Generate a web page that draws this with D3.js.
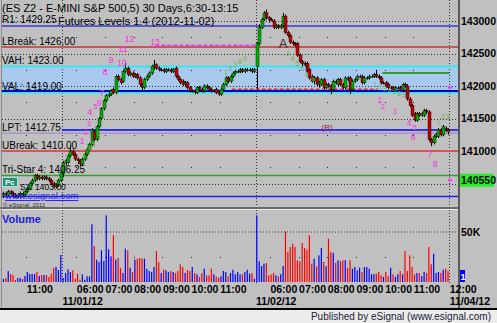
<!DOCTYPE html>
<html>
<head>
<meta charset="utf-8">
<script src="https://cdn.jsdelivr.net/npm/d3@7"></script>
<style>
  body { margin: 0; background: #c0c0c0; }
  svg { display: block; font-family: "Liberation Sans", Arial, sans-serif; }
</style>
</head>
<body>
<svg id="chart" width="497" height="323"></svg>
<script>
// ES Z2 5-minute bars [open, high, low, close], index 0 = first bar of 11/01 session
var bars1031 = [
  [1403.25,1403.75,1402.75,1403.5],[1403.5,1403.75,1403.0,1403.25],[1403.25,1404.0,1403.0,1403.75],
  [1403.75,1404.0,1403.25,1403.5],[1403.5,1403.75,1403.0,1403.25],[1403.25,1403.5,1402.75,1403.0],
  [1403.0,1403.5,1402.75,1403.25],[1403.25,1403.75,1403.0,1403.5],[1403.5,1403.75,1403.0,1403.25],
  [1403.25,1404.0,1403.0,1403.75],[1403.75,1404.5,1403.5,1404.25],[1404.25,1405.25,1404.0,1405.0],
  [1405.0,1405.75,1404.75,1405.5],[1405.5,1406.5,1405.25,1406.25],[1406.25,1406.5,1405.5,1405.75],
  [1405.75,1406.25,1405.5,1406.0],[1406.0,1406.25,1405.5,1405.75],[1405.75,1406.25,1405.5,1406.0],
  [1406.0,1406.25,1405.5,1405.75],[1405.75,1406.0,1405.25,1405.5],[1405.5,1405.75,1404.75,1405.0],
  [1405.0,1405.25,1404.25,1404.5],[1404.5,1405.0,1404.25,1404.75],[1404.75,1405.75,1404.5,1405.5],
  [1405.5,1407.0,1405.25,1406.75]
];
var bars1101 = [
  [1406.5,1408.5,1406.0,1408.25],[1408.25,1408.75,1407.75,1408.5],[1408.25,1409.5,1408.0,1409.25],
  [1409.25,1410.75,1409.0,1410.0],[1410.0,1410.25,1409.25,1409.5],[1409.5,1409.75,1408.5,1408.75],
  [1408.75,1409.0,1408.0,1408.5],[1408.5,1408.75,1407.75,1408.0],[1408.0,1409.0,1407.75,1408.75],
  [1408.75,1409.75,1408.5,1409.5],[1409.5,1410.5,1409.25,1410.25],[1410.25,1411.25,1410.0,1411.0],
  [1411.0,1413.5,1410.75,1413.25],[1413.0,1413.25,1411.5,1411.75],[1411.75,1414.0,1411.5,1413.75],
  [1413.75,1415.25,1413.5,1415.0],[1415.0,1416.75,1414.75,1416.5],[1416.5,1418.0,1416.25,1417.75],
  [1417.75,1418.75,1417.5,1418.5],[1418.5,1419.0,1418.25,1418.75],[1418.75,1419.5,1418.5,1419.25],
  [1419.5,1419.75,1418.75,1419.0],[1419.0,1421.75,1418.75,1421.5],[1421.5,1421.75,1420.75,1421.0],
  [1421.0,1421.25,1420.25,1420.5],[1420.75,1422.5,1420.5,1422.25],[1422.25,1423.5,1422.0,1422.75],
  [1422.75,1423.0,1421.5,1421.75],[1421.75,1422.25,1421.5,1422.0],[1422.0,1422.25,1421.25,1421.5],
  [1421.5,1422.0,1421.25,1421.75],[1421.75,1422.0,1421.0,1421.25],[1421.25,1421.5,1420.0,1420.25],
  [1420.25,1420.5,1419.25,1419.75],[1419.75,1421.25,1419.5,1421.0],[1421.0,1421.75,1420.75,1421.5],
  [1421.5,1422.25,1421.25,1422.0],[1422.0,1423.25,1421.75,1423.0],[1423.0,1424.0,1422.5,1423.25],
  [1423.25,1423.5,1422.5,1422.75],[1422.75,1423.0,1422.25,1422.5],[1422.5,1422.75,1422.25,1422.5],
  [1422.5,1422.75,1422.0,1422.25],[1422.25,1422.75,1422.0,1422.5],[1422.5,1422.75,1422.25,1422.5],
  [1422.5,1422.75,1422.0,1422.25],[1422.25,1422.75,1422.0,1422.5],[1422.75,1423.0,1421.25,1421.5],
  [1421.5,1421.75,1420.75,1421.0],[1421.0,1421.25,1420.25,1420.5],[1420.75,1421.0,1420.0,1420.25],
  [1420.25,1420.75,1420.0,1420.5],[1420.5,1420.75,1419.5,1419.75],[1419.75,1420.0,1419.0,1419.25],
  [1419.25,1419.5,1419.0,1419.25],[1419.25,1419.5,1418.75,1419.0],[1419.0,1420.0,1418.75,1419.75],
  [1419.75,1420.0,1419.25,1419.5],[1419.5,1419.75,1419.0,1419.25],[1419.25,1420.25,1419.0,1420.0],
  [1420.0,1420.25,1419.5,1419.75],[1419.75,1420.0,1419.25,1419.5],[1419.5,1419.75,1419.0,1419.25],
  [1419.25,1419.5,1419.0,1419.25],[1419.5,1419.75,1418.75,1419.0],[1419.0,1419.25,1418.5,1418.75],
  [1418.75,1419.75,1418.5,1419.5],[1419.5,1420.5,1419.25,1420.25],[1420.25,1421.5,1420.0,1421.25],
  [1421.25,1421.5,1420.5,1420.75],[1420.75,1421.75,1420.5,1421.5],[1421.5,1422.25,1421.25,1422.0],
  [1422.0,1422.5,1421.75,1422.25],[1422.25,1422.5,1422.0,1422.25],[1422.25,1422.75,1422.0,1422.5],
  [1422.5,1422.75,1422.0,1422.25],[1422.25,1422.75,1422.0,1422.5],[1422.5,1422.75,1422.25,1422.5],
  [1422.5,1422.75,1422.25,1422.5],[1422.5,1422.75,1422.0,1422.25],[1422.25,1422.75,1422.0,1422.5]
];
var bars1102 = [
  [1423.0,1426.75,1419.5,1426.5],[1426.5,1429.5,1426.25,1429.0],[1429.0,1430.5,1428.75,1430.25],
  [1430.25,1431.5,1430.0,1431.25],[1431.25,1431.75,1430.25,1430.5],[1430.5,1430.75,1429.75,1430.25],
  [1430.25,1430.5,1430.0,1430.0],[1430.0,1430.25,1428.75,1429.0],[1429.0,1429.5,1428.75,1429.25],
  [1429.25,1429.5,1428.75,1429.0],[1429.0,1429.5,1428.75,1429.25],[1429.25,1431.25,1429.0,1430.75],
  [1430.75,1431.0,1428.0,1428.25],[1428.25,1428.5,1427.5,1427.75],[1427.75,1428.0,1426.5,1426.75],
  [1426.75,1427.0,1426.25,1426.5],[1426.5,1426.75,1426.0,1426.25],[1426.5,1426.75,1424.5,1424.75],
  [1424.75,1425.0,1423.5,1423.75],[1423.75,1424.0,1423.0,1423.5],[1423.5,1423.75,1423.0,1423.25],
  [1423.5,1423.75,1422.0,1422.25],[1422.5,1422.75,1421.0,1421.25],[1421.5,1421.75,1420.5,1420.75],
  [1420.75,1421.5,1420.25,1421.25],[1421.25,1421.5,1420.0,1420.25],[1420.25,1420.75,1419.75,1420.5],
  [1420.25,1421.25,1420.0,1421.0],[1421.0,1421.25,1419.5,1419.75],[1419.75,1420.5,1419.5,1420.25],
  [1420.25,1420.5,1419.75,1420.0],[1420.0,1420.25,1418.75,1419.5],[1419.5,1421.0,1419.25,1420.75],
  [1420.75,1421.0,1420.25,1420.5],[1420.25,1421.25,1420.0,1421.0],[1421.0,1421.25,1420.0,1420.25],
  [1420.25,1420.5,1419.5,1419.75],[1419.75,1421.5,1419.5,1421.25],[1421.25,1421.5,1420.75,1421.0],
  [1421.25,1421.5,1418.75,1419.5],[1419.5,1421.0,1419.25,1420.75],[1420.75,1421.25,1420.5,1421.0],
  [1421.0,1421.75,1420.75,1421.5],[1421.5,1421.75,1421.25,1421.5],[1421.5,1421.75,1420.25,1420.5],
  [1420.5,1421.5,1420.25,1421.25],[1421.25,1421.5,1421.0,1421.25],[1421.25,1421.75,1421.0,1421.5],
  [1421.5,1421.75,1421.25,1421.5],[1421.5,1422.0,1421.25,1421.75],[1421.75,1422.5,1421.25,1421.5],
  [1421.5,1421.75,1421.0,1421.25],[1421.25,1421.5,1420.25,1420.5],[1420.5,1420.75,1420.25,1420.5],
  [1420.5,1420.75,1419.75,1420.0],[1420.25,1420.5,1419.5,1419.75],[1419.75,1420.0,1419.5,1419.75],
  [1419.75,1420.0,1419.25,1419.5],[1419.5,1420.0,1419.25,1419.75],[1419.75,1420.0,1419.5,1419.75],
  [1419.75,1420.0,1419.25,1419.5],[1419.5,1420.5,1419.25,1420.25],[1420.25,1420.5,1419.75,1420.0],
  [1420.0,1420.25,1417.75,1418.0],[1418.0,1418.25,1416.75,1417.0],[1417.0,1417.25,1415.25,1415.5],
  [1415.75,1416.0,1414.5,1414.75],[1414.75,1416.0,1414.5,1415.75],[1415.75,1416.0,1415.25,1415.5],
  [1415.5,1416.0,1415.25,1415.75],[1415.5,1416.5,1415.25,1416.25],[1416.25,1416.5,1415.75,1416.0],
  [1416.0,1416.25,1411.5,1411.75],[1411.75,1412.0,1410.75,1411.25],[1411.25,1412.5,1411.0,1412.25],
  [1412.25,1412.75,1412.0,1412.5],[1412.25,1413.5,1412.0,1413.25],[1413.25,1413.5,1412.25,1412.5],
  [1412.5,1414.0,1412.25,1413.75],[1413.5,1413.75,1413.0,1413.25],[1413.25,1413.5,1412.5,1413.0]
];

// volume in thousands of contracts
var vol1031 = [3,4,11,8,7,2,4,4,3,6,10,8,8,8,10,6,7,7,7,5,8,14,15,12,27];
var vol1101 = [4,9,12.7,10,11.7,3.3,8.3,2.3,7.7,2.3, 5.7,5.7,57.7,36,22.3,20,31.7,21,66.7,32.7,
  25.7,46.7,22.3,24,14.3,9,33.3,31.7,14.3,10, 22.3,23.3,24,23.3,23.3,13.3,11,10,15,31,
  20,9,12.3,11.7,10,11,10,9,11,17.7, 15,9,12.3,11,15,9,7.7,5,9,13.3,
  6.7,6.7,13.3,7.7,5.7,4.3,5.7,11,10,5.7, 9,12.3,7.7,10,7.7,7.7,10,12.3,8.3,9, 3.3];
var vol1102 = [66.7,20.7,16,18.3,19,6.7,7.7,9,6.7,5.7, 7.7,16,50.7,30,35,38.3,35,21.7,20.7,39,
  34,32.3,46.7,18.3,23.3,15.7,26.7,34,20,15.7, 43.3,30,29,19,21.7,20.7,21.7,21.7,14,21.7,
  13.3,15,11.7,14.3,10,15,15,13.3,7.7,7.7, 8.3,10,6.7,5,10,5.7,14.3,7.7,5,7.7,
  11,7.7,31,11,26.7,15,7.7,9,9,5.7, 10,9,35,17.7,28.3,9,10,9,12.3,13.3, 11];

// time axis
var tickBars = [-15, 6, 18, 30, 42, 54, 66, 87, 99, 111, 123, 135, 147, 162];
var tickLabels = ["11:00","06:00","07:00","08:00","09:00","10:00","11:00",
                  "06:00","07:00","08:00","09:00","10:00","11:00","12:00"];
var dayBars = [0, 81, 162];
var dayLabels = ["11/01/12", "11/02/12", "11/04/12"];
var priceTicks = [1430, 1425, 1420, 1415, 1410];
var gridPrices = [1430, 1425, 1420, 1415, 1410, 1405];
var dotPrices = [1427.5, 1422.5, 1417.5, 1412.5, 1407.5];

// futures levels
var levelNames = ["R1", "LBreak", "VAH", "VAL", "LPT", "UBreak", "Tri-Star 4", "S1"];
var levelPrices = [1429.25, 1426.00, 1423.00, 1419.00, 1412.75, 1410.00, 1406.25, 1403.00];
var lastPrice = 1405.50;

// setup counts [bar, price, label]
var countsUp = [[8.4,1411.5,"1"],[10,1412.8,"2"],[11.3,1414.3,"3"],[11.7,1416,"4"],[14,1416.9,"5"],
  [15.5,1417.4,"6"],[16.7,1418.9,"7"],[18,1422.2,"8"],[20.5,1424,"9"],[25.1,1423.5,"10"],
  [25.5,1425.7,"11"],[28.2,1427.2,"12"],[38.9,1426.8,"13"]];
var countsDown = [[133,1417.8,"1"],[134.3,1416.9,"2"],[139.3,1416,"3"],[145.2,1414.3,"4"],
  [147.6,1413.6,"5"],[146.9,1412.2,"6"],[154,1409.5,"7"],[156.1,1408,"8"]];
var countsSmall = [[9,1409.3,"3"],[11.2,1410.3,"4"],[13.2,1411,"5"],[15.2,1412.6,"6"],
  [68.5,1422,"1"],[70.5,1422.6,"2"],[72.5,1423.2,"3"],[74.5,1423.7,"8"],[76.5,1424.2,"9"],
  [94.5,1425,"3"],[96.5,1424.2,"4"],[98.5,1423.4,"5"],[100.5,1422.6,"6"],[102.5,1421.8,"8"],[104.5,1421,"9"],
  [131,1420.2,"1"],[133,1419.9,"2"],[135,1419.6,"3"],[137,1419.3,"4"],[139,1419,"7"],[141,1418.8,"8"],[143,1418.6,"9"],
  [157.5,1414.5,"1"],[159.5,1415.3,"2"],[161.3,1415.3,"3"]];

var svg = d3.select("#chart");
var W = 497, H = 323;

var allBars = bars1031.concat(bars1101, bars1102);
var allVol = vol1031.concat(vol1101, vol1102);
var first = -bars1031.length;

var x = d3.scaleLinear().domain([-25, 162]).range([2.25, 449.2]);
var y = d3.scaleLinear().domain([1410, 1430]).range([151, 21]);
var yv = d3.scaleLinear().domain([0, 50]).range([282, 232]);

svg.append("rect").attr("width", W).attr("height", H).attr("fill", "#c0c0c0");

// VAH - VAL band
svg.append("rect")
  .attr("x", 2).attr("width", 456)
  .attr("y", y(levelPrices[2])).attr("height", y(levelPrices[3]) - y(levelPrices[2]))
  .attr("fill", "#a8c8ee");

// dotted gridlines
svg.selectAll(".grid").data(gridPrices).enter().append("line")
  .attr("x1", 2).attr("x2", 458)
  .attr("y1", function (d) { return Math.round(y(d)) + 0.5; })
  .attr("y2", function (d) { return Math.round(y(d)) + 0.5; })
  .attr("stroke", "#303030").attr("stroke-dasharray", "1,2");

// grid dots at hour ticks
dotPrices.forEach(function (p) {
  svg.selectAll(null).data(tickBars.slice(0, 13)).enter().append("rect")
    .attr("x", function (d) { return Math.round(x(d)); })
    .attr("y", Math.round(y(p)))
    .attr("width", 1).attr("height", 1).attr("fill", "#202020");
});

// day separators
svg.selectAll(".sep").data(dayBars).enter().append("line")
  .attr("x1", function (d) { return Math.round(x(d)) + 0.5; })
  .attr("x2", function (d) { return Math.round(x(d)) + 0.5; })
  .attr("y1", 0).attr("y2", 283)
  .attr("stroke", "#303030").attr("stroke-dasharray", "1,2");

// level lines
var levelStyle = {
  "R1": ["#5a5ac8", 2], "LBreak": ["#d03030", 1.3], "VAH": ["#30e8f0", 2], "VAL": ["#30e8f0", 2],
  "LPT": ["#a888c8", 1.3], "UBreak": ["#e05050", 2], "Tri-Star 4": ["#2f9f2f", 1.5], "S1": ["#2020f0", 1.5]
};
levelNames.forEach(function (n, i) {
  svg.append("line")
    .attr("x1", 2).attr("x2", 458)
    .attr("y1", y(levelPrices[i])).attr("y2", y(levelPrices[i]))
    .attr("stroke", levelStyle[n][0]).attr("stroke-width", levelStyle[n][1]);
});
// extra study lines
svg.append("line").attr("x1", 2).attr("x2", 458).attr("y1", y(1419.25)).attr("y2", y(1419.25))
  .attr("stroke", "#0000c8").attr("stroke-width", 2);
svg.append("line").attr("x1", x(0)).attr("x2", 458).attr("y1", y(1413.25)).attr("y2", y(1413.25))
  .attr("stroke", "#0000ff").attr("stroke-width", 1.5);
svg.append("line").attr("x1", x(71)).attr("x2", x(132)).attr("y1", y(1419.5)).attr("y2", y(1419.5))
  .attr("stroke", "#e03030").attr("stroke-width", 1.5).attr("stroke-dasharray", "4,2");
svg.append("line").attr("x1", x(39)).attr("x2", x(82)).attr("y1", y(1426.25)).attr("y2", y(1426.25))
  .attr("stroke", "#e040e0").attr("stroke-width", 2).attr("stroke-dasharray", "4,2");
svg.append("line").attr("x1", x(134)).attr("x2", x(162)).attr("y1", y(1422)).attr("y2", y(1422))
  .attr("stroke", "#2f9f2f").attr("stroke-width", 2);
[1419.75, lastPrice].forEach(function (p) {
  svg.append("line").attr("x1", x(161.5)).attr("x2", x(163.2)).attr("y1", y(p)).attr("y2", y(p))
    .attr("stroke", "#ff30ff").attr("stroke-width", 2);
});

// candles
var candles = svg.append("g");
allBars.forEach(function (d, k) {
  var i = first + k, cx = Math.round(x(i + 0.5)) + 0.5;
  candles.append("line")
    .attr("x1", cx).attr("x2", cx).attr("y1", y(d[1])).attr("y2", y(d[2]))
    .attr("stroke", "#000").attr("stroke-width", 1);
  var top = y(Math.max(d[0], d[3])), bot = y(Math.min(d[0], d[3]));
  var fill = d[3] > d[0] ? "#00b000" : (d[3] < d[0] ? "#c00000" : "#000");
  candles.append("rect")
    .attr("x", cx - 1.5).attr("width", 3)
    .attr("y", top).attr("height", Math.max(1, bot - top))
    .attr("fill", fill).attr("stroke", d[3] === d[0] ? "none" : "#000").attr("stroke-width", 0.4);
});

// volume panel
svg.append("line").attr("x1", 2).attr("x2", 458).attr("y1", yv(50)).attr("y2", yv(50))
  .attr("stroke", "#303030").attr("stroke-dasharray", "1,2");
svg.selectAll(".vdot").data(tickBars.slice(0, 13)).enter().append("rect")
  .attr("x", function (d) { return Math.round(x(d)); }).attr("y", Math.round(yv(25)))
  .attr("width", 1).attr("height", 1).attr("fill", "#202020");
svg.selectAll(".vol").data(allVol).enter().append("rect")
  .attr("x", function (d, k) { return x(first + k + 0.5) - 0.6; })
  .attr("width", 1.2)
  .attr("y", function (d) { return yv(d); })
  .attr("height", function (d) { return yv(0) - yv(d); })
  .attr("fill", function (d, k) { var b = allBars[k]; return b[3] >= b[0] ? "#0000ff" : "#ff0000"; });

// panel frames
svg.append("rect").attr("x", 0).attr("y", 207).attr("width", 458).attr("height", 2).attr("fill", "#6a6a6a");
svg.append("rect").attr("x", 0).attr("y", 209).attr("width", 458).attr("height", 1).attr("fill", "#ececec");
svg.append("rect").attr("x", 458).attr("y", 0).attr("width", 2).attr("height", 308).attr("fill", "#5a5a5a");
svg.append("line").attr("x1", 1.5).attr("x2", 1.5).attr("y1", 0).attr("y2", 308).attr("stroke", "#8a8a8a");

// price axis
var py = svg.append("g").attr("transform", "translate(459,0)")
  .call(d3.axisRight(y).tickValues(priceTicks).tickSize(0)
    .tickFormat(function (d) { return d3.format("d")(d * 100); }));
py.select(".domain").remove();
py.selectAll("text").attr("x", 2).attr("fill", "#000")
  .style("font-size", "10.5px").style("font-weight", "bold").style("font-family", "Liberation Sans, Arial, sans-serif");

svg.append("rect").attr("x", 460).attr("y", y(lastPrice) - 6.5).attr("width", 34).attr("height", 13).attr("fill", "#22ee22");
svg.append("text").attr("x", 461).attr("y", y(lastPrice) + 4).text(d3.format("d")(lastPrice * 100))
  .attr("font-size", "10.5px").attr("font-weight", "bold").attr("fill", "#000");

svg.append("text").attr("x", 461).attr("y", yv(50) + 4).text("50K")
  .attr("font-size", "10.5px").attr("font-weight", "bold").attr("fill", "#000");
svg.append("rect").attr("x", 460).attr("y", 270).attr("width", 5).attr("height", 12).attr("fill", "#0000ff");
svg.append("text").attr("x", 460.5).attr("y", 280).text("1")
  .attr("font-size", "9px").attr("font-weight", "bold").attr("fill", "#fff");

// time axis
var tx = svg.append("g").attr("transform", "translate(0,283)")
  .call(d3.axisBottom(x).tickValues(tickBars).tickSize(0)
    .tickFormat(function (d, i) { return tickLabels[i]; }));
tx.select(".domain").remove();
tx.selectAll("text").attr("text-anchor", "start").attr("fill", "#000")
  .style("font-size", "10.5px").style("font-weight", "bold").style("font-family", "Liberation Sans, Arial, sans-serif");

var dx = svg.append("g").attr("transform", "translate(0,295)")
  .call(d3.axisBottom(x).tickValues(dayBars).tickSize(0)
    .tickFormat(function (d, i) { return dayLabels[i]; }));
dx.select(".domain").remove();
dx.selectAll("text").attr("text-anchor", "start").attr("fill", "#000")
  .style("font-size", "10.5px").style("font-weight", "bold").style("font-family", "Liberation Sans, Arial, sans-serif");

// bottom strip
svg.append("rect").attr("x", 0).attr("y", 308).attr("width", W).attr("height", 2).attr("fill", "#000");
svg.append("rect").attr("x", 0).attr("y", 310).attr("width", W).attr("height", 13).attr("fill", "#ececec");
svg.append("text").attr("x", 491).attr("y", 320).attr("text-anchor", "end")
  .attr("font-size", "10px").attr("fill", "#1a1a3a").text("Published by eSignal (www.esignal.com)");

// text labels
svg.append("text").attr("x", 2).attr("y", 12).attr("font-size", "11px").attr("fill", "#000")
  .text("(ES Z2 - E-MINI S&P 500,5) 30 Days,6:30-13:15");
svg.append("text").attr("x", 58).attr("y", 25).attr("font-size", "11px").attr("fill", "#000")
  .text("Futures Levels 1.4 (2012-11-02)");
levelNames.forEach(function (n, i) {
  if (n === "S1") return;
  svg.append("text").attr("x", 2).attr("y", y(levelPrices[i]) - 2.5)
    .attr("font-size", "10px").attr("fill", "#000")
    .text(n + ": " + d3.format(".2f")(levelPrices[i]));
});
svg.append("text").attr("x", 20).attr("y", 189.5)
  .attr("font-size", "8.5px").attr("fill", "#000")
  .text(levelNames[7] + ": " + d3.format(".2f")(levelPrices[7]));
svg.append("text").attr("x", 5).attr("y", 199).attr("font-size", "9.5px").attr("fill", "#2020ff")
  .attr("text-decoration", "underline").text("www.esignal.com");
svg.append("rect").attr("x", 2.5).attr("y", 177.5).attr("width", 15).attr("height", 9)
  .attr("fill", "#2a8a78").attr("stroke", "#a0e8d8");
svg.append("text").attr("x", 5).attr("y", 185).attr("font-size", "8px").attr("font-weight", "bold")
  .attr("fill", "#fff").text("Pc");
svg.append("text").attr("x", 3).attr("y", 206.5).attr("font-size", "6px").attr("fill", "#303030")
  .text("\u00a9 eSignal, 2011");
svg.append("text").attr("x", 2).attr("y", 223).attr("font-size", "11px").attr("font-weight", "bold")
  .attr("fill", "#1a1ae0").text("Volume");

// count annotations
svg.selectAll(".cu").data(countsUp.concat(countsDown)).enter().append("text")
  .attr("x", function (d) { return x(d[0]); }).attr("y", function (d) { return y(d[1]); })
  .attr("dy", "0.35em").attr("text-anchor", "middle")
  .attr("font-size", function (d) { return d[2] === "2" || d[2] === "3" || d[2] === "5" ? "7px" : "8.5px"; })
  .attr("fill", "#ff28e6").text(function (d) { return d[2]; });
svg.selectAll(".cs").data(countsSmall).enter().append("text")
  .attr("x", function (d) { return x(d[0]); }).attr("y", function (d) { return y(d[1]); })
  .attr("dy", "0.35em").attr("text-anchor", "middle").attr("font-size", "6.5px")
  .attr("fill", "#70b040").text(function (d) { return d[2]; });
svg.append("text").attr("x", x(92.5)).attr("y", y(1426.6)).attr("dy", "0.35em").attr("text-anchor", "middle")
  .attr("font-size", "13px").attr("fill", "#303030").text("A");
svg.append("text").attr("x", x(110.9)).attr("y", y(1413.6)).attr("dy", "0.35em").attr("text-anchor", "middle")
  .attr("font-size", "8px").attr("fill", "#a02020").text("(R)");
</script>
</body>
</html>
